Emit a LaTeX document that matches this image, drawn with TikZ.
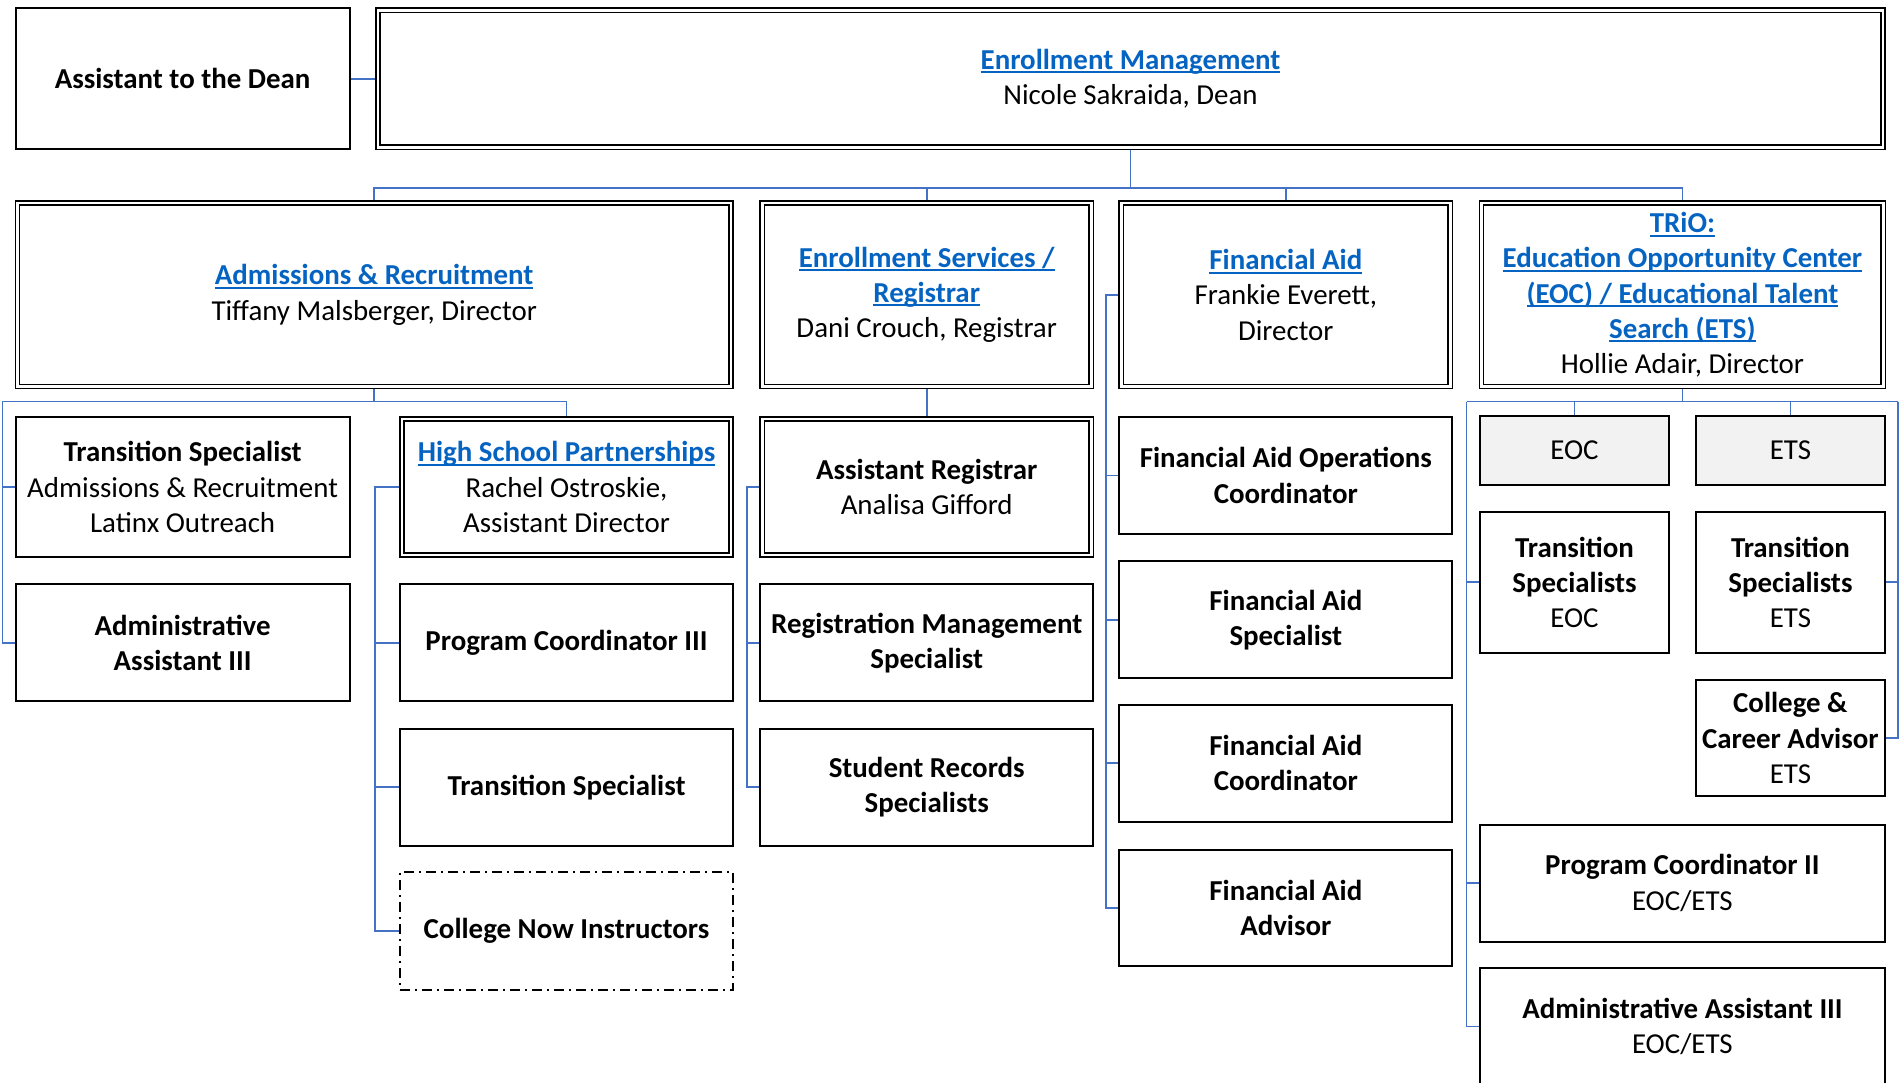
\documentclass[tikz,border=0pt]{standalone}
\usepackage{fontspec}
\setmainfont{Carlito}
\usepackage{xcolor}
\usepackage{tikz}

\definecolor{linkblue}{RGB}{5,99,193}
\definecolor{lineblue}{RGB}{68,114,196}
\definecolor{boxgray}{RGB}{242,242,242}

% underlined link heading
\newcommand{\linkline}[1]{\textcolor{linkblue}{\bfseries\setbox0\hbox{#1}\rlap{\rule[-4pt]{\wd0}{2pt}}\box0}}

\begin{document}
\begin{tikzpicture}[x=1pt, y=-1pt,
  box/.style={draw, line width=2pt, align=center, inner sep=1pt,
    font=\fontsize{28.9}{35.2}\selectfont},
  dbox/.style={box, line width=1.6pt, double, double distance=2.6pt, outer sep=2.9pt},
  conn/.style={draw=lineblue, line width=1.8pt}]
      \useasboundingbox (0,0) rectangle (1902,1083);

      % Dean level
      \node[box, minimum width=334, minimum height=141] (atd) at (182.6,78.8) {\textbf{Assistant to the Dean}};
      \node[dbox, minimum width=1505, minimum height=137] (em) at (1130.5,78.8) {\linkline{Enrollment Management}\\Nicole Sakraida, Dean};

      % Departments
      \node[dbox, minimum width=713.5, minimum height=183.5] (adm) at (374.2,294.8) {\linkline{Admissions \& Recruitment}\\Tiffany Malsberger, Director};
      \node[dbox, minimum width=329, minimum height=183.5] (esr) at (926.7,294.8) {\linkline{Enrollment Services /}\\\linkline{Registrar}\\Dani Crouch, Registrar};
      \node[dbox, minimum width=329, minimum height=183.5] (fa) at (1285.8,294.8) {\linkline{Financial Aid}\\Frankie Everett,\\Director};
      \node[dbox, minimum width=401.8, minimum height=183.5] (trio) at (1682.4,294.8) {\linkline{TRiO:}\\\linkline{Education Opportunity Center}\\\linkline{(EOC) / Educational Talent}\\\linkline{Search (ETS)}\\Hollie Adair, Director};

      % Admissions & Recruitment
      \node[box, minimum width=334, minimum height=140] (tsa) at (182.6,487) {\textbf{Transition Specialist}\\Admissions \& Recruitment\\Latinx Outreach};
      \node[dbox, minimum width=329, minimum height=136.2] (hsp) at (566.5,487) {\linkline{High School Partnerships}\\Rachel Ostroskie,\\Assistant Director};
      \node[box, minimum width=334, minimum height=117] (aaa) at (182.6,642.9) {\textbf{Administrative}\\\textbf{Assistant III}};
      \node[box, minimum width=333, minimum height=117] (pc3) at (566.5,642.9) {\textbf{Program Coordinator III}};
      \node[box, minimum width=333, minimum height=117] (tsh) at (566.5,787.2) {\textbf{Transition Specialist}};
      \node[box, dash pattern=on 10pt off 5pt on 2pt off 5pt, minimum width=333, minimum height=118] (cni) at (566.5,931) {\textbf{College Now Instructors}};

      % Enrollment Services / Registrar
      \node[dbox, minimum width=329, minimum height=136.2] (ar) at (926.7,487) {\textbf{Assistant Registrar}\\Analisa Gifford};
      \node[box, minimum width=333, minimum height=117] (rms) at (926.7,642.9) {\textbf{Registration Management}\\\textbf{Specialist}};
      \node[box, minimum width=333, minimum height=117] (srs) at (926.7,787.2) {\textbf{Student Records}\\\textbf{Specialists}};

      % Financial Aid
      \node[box, minimum width=333, minimum height=117] (fao) at (1285.8,475.5) {\textbf{Financial Aid Operations}\\\textbf{Coordinator}};
      \node[box, minimum width=333, minimum height=117] (fas) at (1285.8,619.8) {\textbf{Financial Aid}\\\textbf{Specialist}};
      \node[box, minimum width=333, minimum height=117] (fac) at (1285.8,763) {\textbf{Financial Aid}\\\textbf{Coordinator}};
      \node[box, minimum width=333, minimum height=116] (faa) at (1285.8,908) {\textbf{Financial Aid}\\\textbf{Advisor}};

      % TRiO
      \node[box, fill=boxgray, minimum width=189.7, minimum height=69.6] (eoc) at (1574.5,450.6) {EOC};
      \node[box, fill=boxgray, minimum width=189.7, minimum height=69.6] (ets) at (1790.4,450.6) {ETS};
      \node[box, minimum width=189.7, minimum height=141] (tseoc) at (1574.5,582.3) {\textbf{Transition}\\\textbf{Specialists}\\EOC};
      \node[box, minimum width=189.7, minimum height=141] (tsets) at (1790.4,582.3) {\textbf{Transition}\\\textbf{Specialists}\\ETS};
      \node[box, minimum width=189.7, minimum height=116] (cca) at (1790.4,738) {\textbf{College \&}\\\textbf{Career Advisor}\\ETS};
      \node[box, minimum width=405.6, minimum height=117] (pc2) at (1682.4,883) {\textbf{Program Coordinator II}\\EOC/ETS};
      \node[box, minimum width=405.6, minimum height=117] (aa3) at (1682.4,1026.4) {\textbf{Administrative Assistant III}\\EOC/ETS};

      % Bus points
      \coordinate (bus) at (1130.5,188);
      \coordinate (admbus) at (374.2,401.5);
      \coordinate (admleft) at (2.4,401.5);
      \coordinate (hspline) at (374.8,487);
      \coordinate (arline) at (747.2,487);
      \coordinate (faline) at (1106.3,294.8);
      \coordinate (triobus) at (1682.4,401.5);
      \coordinate (trioleft) at (1466.5,401.5);
      \coordinate (trioright) at (1898.3,401.5);

      % Connectors
      \draw[conn] (atd.east) -- (em.west);
      \foreach \n in {adm,esr,fa,trio} {
        \draw[conn] (em.south) -- (bus) -| (\n.north);
      }
      \draw[conn] (adm.south) -- (admbus) -| (hsp.north);
      \draw[conn] (admbus) -- (admleft) |- (aaa.west);
      \draw[conn] (admleft) |- (tsa.west);
      \draw[conn] (hsp.west) -- (hspline) |- (cni.west);
      \foreach \n in {pc3,tsh} {
        \draw[conn] (hspline) |- (\n.west);
      }
      \draw[conn] (esr.south) -- (ar.north);
      \draw[conn] (ar.west) -- (arline) |- (srs.west);
      \draw[conn] (arline) |- (rms.west);
      \draw[conn] (fa.west) -- (faline) |- (faa.west);
      \foreach \n in {fao,fas,fac} {
        \draw[conn] (faline) |- (\n.west);
      }
      \draw[conn] (trio.south) -- (triobus);
      \draw[conn] (trioleft) -- (trioright);
      \draw[conn] (triobus) -| (eoc.north);
      \draw[conn] (triobus) -| (ets.north);
      \draw[conn] (trioleft) |- (aa3.west);
      \foreach \n in {tseoc,pc2} {
        \draw[conn] (trioleft) |- (\n.west);
      }
      \draw[conn] (trioright) |- (cca.east);
      \draw[conn] (trioright) |- (tsets.east);
    \end{tikzpicture}
\end{document}
